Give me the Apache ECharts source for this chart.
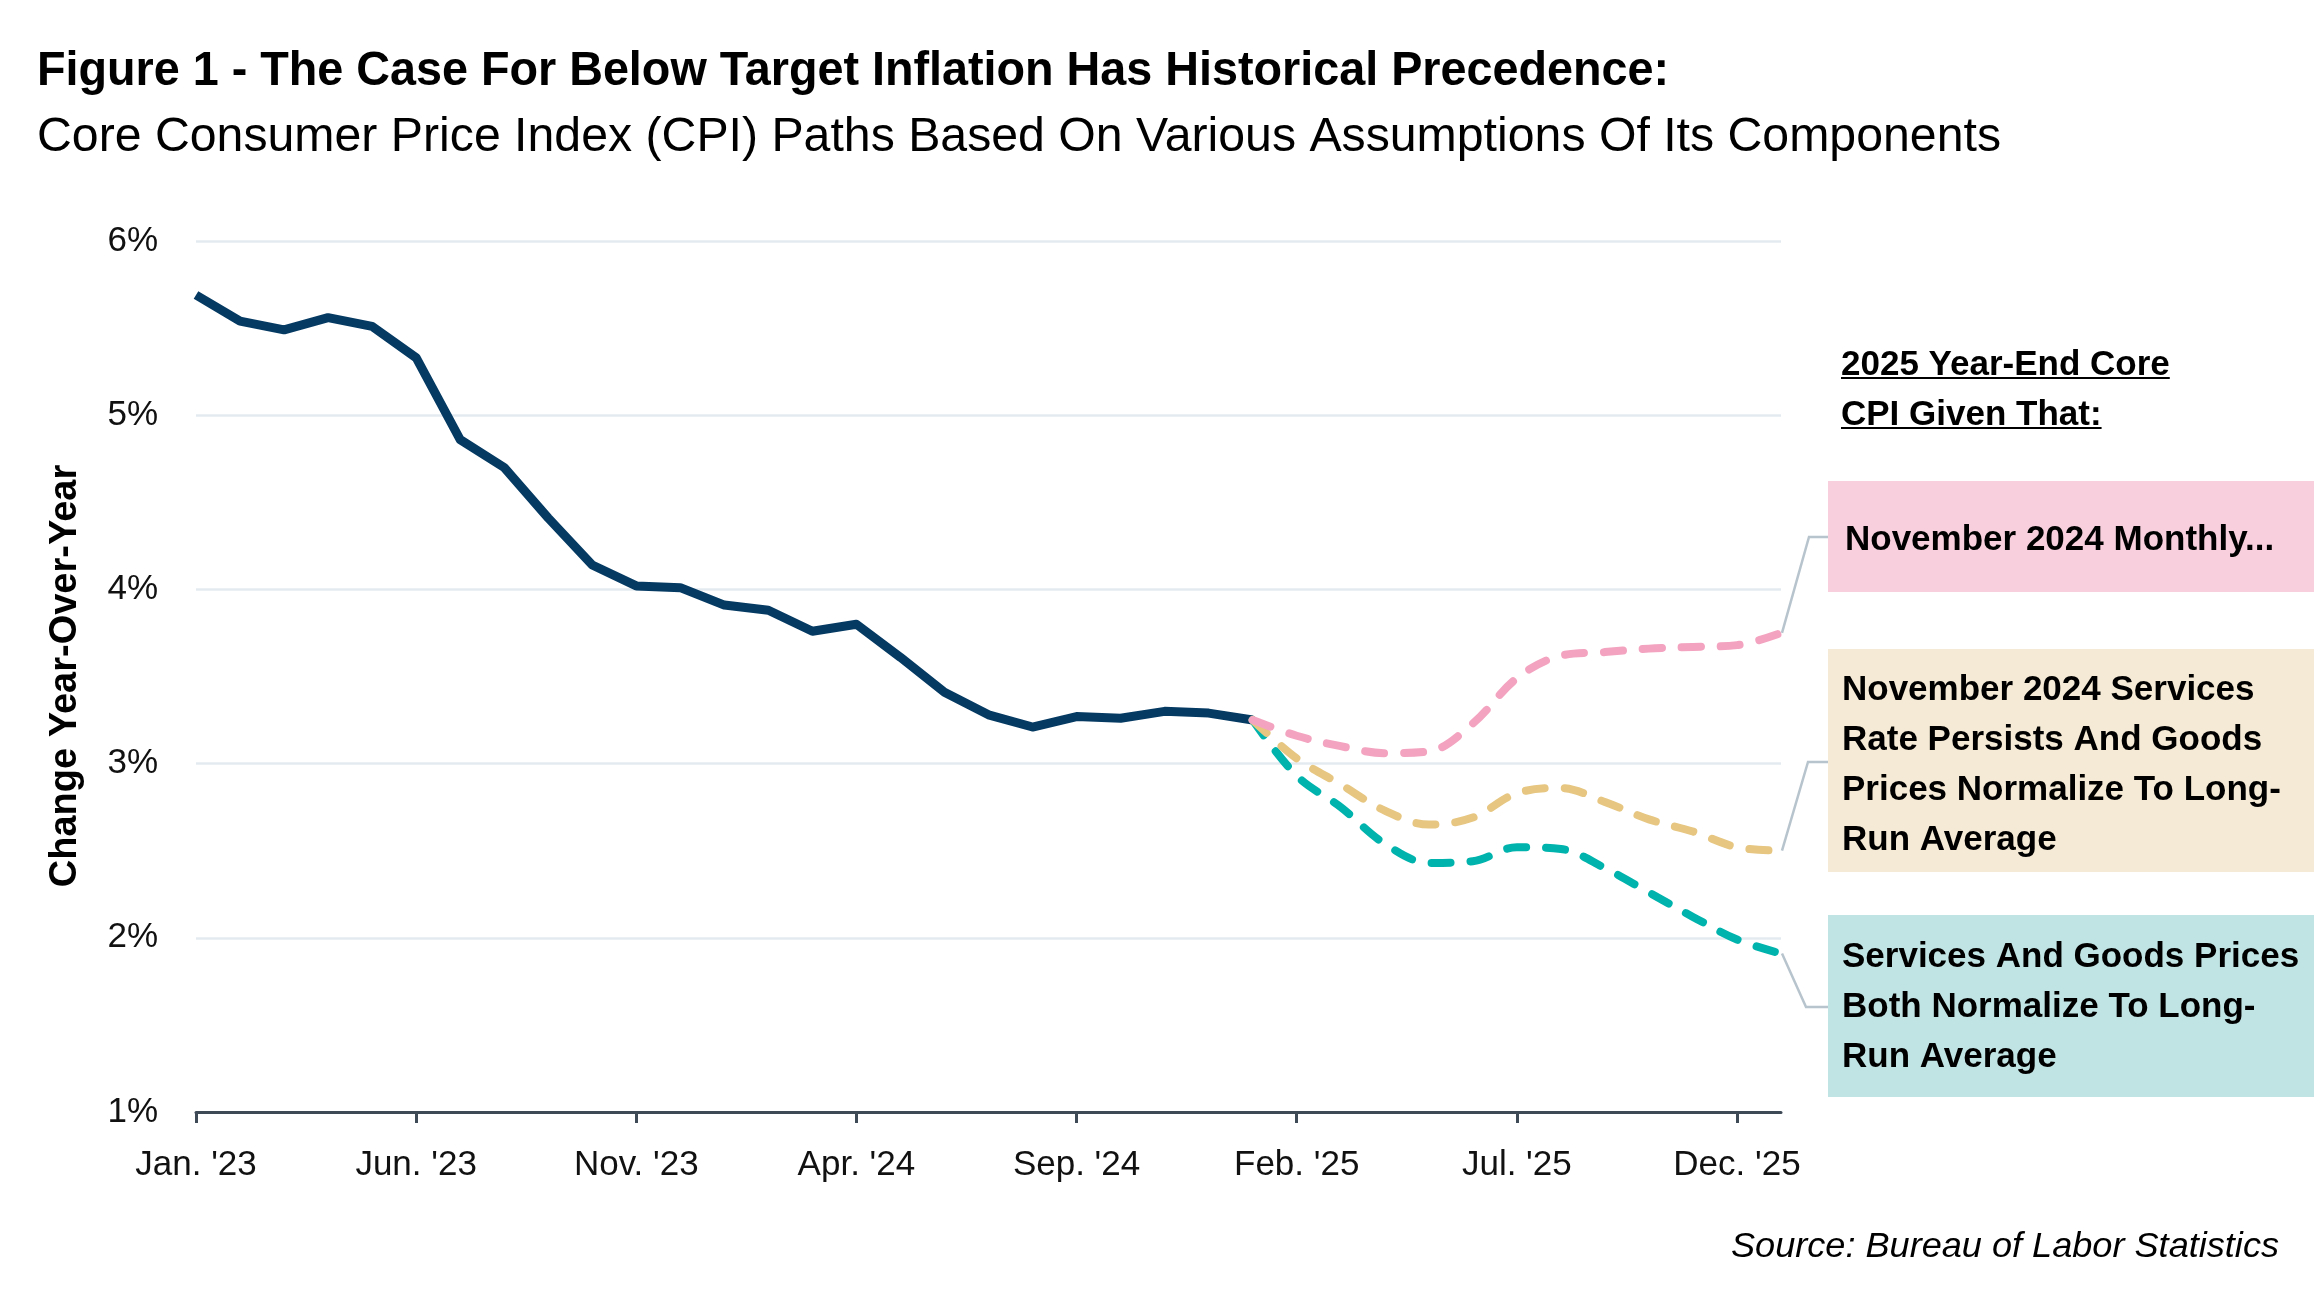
<!DOCTYPE html>
<html>
<head>
<meta charset="utf-8">
<script src="https://cdn.jsdelivr.net/npm/echarts@6/dist/echarts.min.js"></script>
<style>
html,body{margin:0;padding:0;background:#fff;}
#chart{width:2314px;height:1296px;}
</style>
</head>
<body>
<div id="chart"></div>
<script>
// ---------------- DATA ----------------
const categories = [
  "Jan. '23","Feb. '23","Mar. '23","Apr. '23","May '23","Jun. '23","Jul. '23","Aug. '23","Sep. '23","Oct. '23","Nov. '23","Dec. '23",
  "Jan. '24","Feb. '24","Mar. '24","Apr. '24","May '24","Jun. '24","Jul. '24","Aug. '24","Sep. '24","Oct. '24","Nov. '24","Dec. '24",
  "Jan. '25","Feb. '25","Mar. '25","Apr. '25","May '25","Jun. '25","Jul. '25","Aug. '25","Sep. '25","Oct. '25","Nov. '25","Dec. '25",
  "Jan. '26"
];
const actualCore = [5.69, 5.54, 5.49, 5.56, 5.51, 5.33, 4.86, 4.70, 4.41, 4.14, 4.02, 4.01,
                    3.91, 3.88, 3.76, 3.80, 3.61, 3.41, 3.28, 3.21, 3.27, 3.26, 3.30, 3.29, 3.25];
const projectionStart = 24;
const pathNov24Monthly = [3.25, 3.16, 3.10, 3.06, 3.07, 3.23, 3.49, 3.62, 3.64, 3.66, 3.67, 3.68, 3.75];
const pathServicesPersist = [3.25, 3.03, 2.88, 2.73, 2.65, 2.69, 2.83, 2.86, 2.78, 2.68, 2.61, 2.52, 2.50];
const pathBothNormalize = [3.25, 2.93, 2.75, 2.54, 2.43, 2.44, 2.52, 2.51, 2.40, 2.26, 2.12, 1.99, 1.91];
const yMin = 1, yMax = 6, yStep = 1;
const labelEvery = 5;
const lastLabelIndex = 35;

const titleText = "Figure 1 - The Case For Below Target Inflation Has Historical Precedence:";
const subtitleText = "Core Consumer Price Index (CPI) Paths Based On Various Assumptions Of Its Components";
const yAxisTitle = "Change Year-Over-Year";
const sourceText = "Source: Bureau of Labor Statistics";
const headerLines = ["2025 Year-End Core", "CPI Given That:"];
const labelPink = ["November 2024 Monthly..."];
const labelGold = ["November 2024 Services", "Rate Persists And Goods", "Prices Normalize To Long-", "Run Average"];
const labelTeal = ["Services And Goods Prices", "Both Normalize To Long-", "Run Average"];

// ---------------- STYLE ----------------
const FONT = '"Liberation Sans", Arial, Helvetica, sans-serif';
const C_NAVY = '#053A63', C_PINK = '#F3A3BF', C_GOLD = '#E6C680', C_TEAL = '#00B3AC';
const BOX_PINK = '#F8D0DD', BOX_GOLD = '#F5EAD5', BOX_TEAL = '#C0E4E3';
const C_CONN = '#B8C4CD';
const MID = 0.28; // baseline offset of zrender 'middle' text, in em

const mctx = document.createElement('canvas').getContext('2d');
function measure(text, weight, style, size) {
  mctx.font = `${style} ${weight} ${size}px ${FONT}`;
  return mctx.measureText(text).width;
}

const chart = echarts.init(document.getElementById('chart'), null, {renderer: 'canvas'});

function pad(arr, start, total) {
  const out = [];
  for (let i = 0; i < total; i++) {
    const j = i - start;
    out.push(j >= 0 && j < arr.length ? arr[j] : null);
  }
  return out;
}
const N = categories.length;
const dashStyle = (color) => ({color: color, width: 8, type: [19, 20], cap: 'round', join: 'round'});
const showIdx = (idx) => idx % labelEvery === 0 && idx <= lastLabelIndex;

chart.setOption({
  animation: false,
  backgroundColor: '#ffffff',
  grid: {left: 196, right: 533, top: 241, bottom: 184, containLabel: false},
  xAxis: {
    type: 'category',
    data: categories,
    boundaryGap: false,
    axisLine: {show: true, lineStyle: {color: '#3E4A56', width: 3}},
    axisTick: {show: true, interval: showIdx, length: 11, lineStyle: {color: '#3E4A56', width: 3}},
    axisLabel: {interval: showIdx, margin: 36, fontSize: 35, fontFamily: FONT, color: '#111111'},
    splitLine: {show: false}
  },
  yAxis: {
    type: 'value',
    min: yMin, max: yMax, interval: yStep,
    axisLine: {show: false},
    axisTick: {show: false},
    axisLabel: {formatter: '{value}%', margin: 38, fontSize: 35, fontFamily: FONT, color: '#111111'},
    splitLine: {show: true, lineStyle: {color: '#E4EBF0', width: 2.5}}
  },
  series: [
    {name: 'Services And Goods Both Normalize', type: 'line', data: pad(pathBothNormalize, projectionStart, N),
     showSymbol: false, symbol: 'none', smooth: 0.35, lineStyle: dashStyle(C_TEAL), z: 3},
    {name: 'Services Persist, Goods Normalize', type: 'line', data: pad(pathServicesPersist, projectionStart, N),
     showSymbol: false, symbol: 'none', smooth: 0.35, lineStyle: dashStyle(C_GOLD), z: 4},
    {name: 'Core CPI', type: 'line', data: pad(actualCore, 0, N),
     showSymbol: false, symbol: 'none', smooth: false, lineStyle: {color: C_NAVY, width: 9, join: 'round'}, z: 2},
    {name: 'November 2024 Monthly', type: 'line', data: pad(pathNov24Monthly, projectionStart, N),
     showSymbol: false, symbol: 'none', smooth: 0.35, lineStyle: dashStyle(C_PINK), z: 5}
  ]
});

// ---------------- ANNOTATIONS ----------------
const g = [];
// condensed-looking titles: size from cap height, horizontal scale from width
function fittedText(text, weight, style, size, x, baseline, targetW, align) {
  const sx = targetW / measure(text, weight, style, size);
  g.push({type: 'text', x: x, y: baseline - MID * size, scaleX: sx,
    style: {text: text, font: `${style} ${weight} ${size}px ${FONT}`, fill: '#000', align: align, verticalAlign: 'middle'}});
}
fittedText(titleText, 'bold', 'normal', 48, 37, 85, 1632, 'left');
fittedText(subtitleText, 'normal', 'normal', 49, 37, 151, 1964, 'left');
fittedText(sourceText, 'normal', 'italic', 35, 2279, 1257, 548, 'right');

// y axis title (rotated)
g.push({type: 'text', x: 66, y: 676, rotation: Math.PI / 2,
  style: {text: yAxisTitle, font: `bold 38px ${FONT}`, fill: '#000', align: 'center', verticalAlign: 'middle'}});

// header with underline
const hdrFont = `bold 35px ${FONT}`;
const hdrBaselines = [375, 425];
headerLines.forEach((t, i) => {
  g.push({type: 'text', x: 1841, y: hdrBaselines[i] - MID * 35, style: {text: t, font: hdrFont, fill: '#000', align: 'left', verticalAlign: 'middle'}});
  const w = measure(t, 'bold', 'normal', 35);
  g.push({type: 'line', shape: {x1: 1841, y1: hdrBaselines[i] + 3, x2: 1841 + w, y2: hdrBaselines[i] + 3}, style: {stroke: '#000', lineWidth: 2}});
});

// boxes
function box(y0, y1, color, lines, baselines, tx) {
  g.push({type: 'rect', shape: {x: 1828, y: y0, width: 2314 - 1828, height: y1 - y0}, style: {fill: color}, z: 1});
  lines.forEach((t, i) => {
    g.push({type: 'text', x: tx, y: baselines[i] - MID * 35, z: 2,
      style: {text: t, font: `bold 35px ${FONT}`, fill: '#000', align: 'left', verticalAlign: 'middle'}});
  });
}
box(481, 592, BOX_PINK, labelPink, [550], 1845);
box(649, 872, BOX_GOLD, labelGold, [700, 750, 800, 850], 1842);
box(915, 1097, BOX_TEAL, labelTeal, [967, 1017, 1067], 1842);

// connectors from series end points (via library scale)
function connector(vals, elbow, endX) {
  const last = N - 1;
  const p = chart.convertToPixel({gridIndex: 0}, [last, vals[vals.length - 1]]);
  g.push({type: 'polyline', shape: {points: [[p[0] + 1, p[1]], elbow, [endX, elbow[1]]]},
    style: {stroke: C_CONN, lineWidth: 2.5, fill: null}, z: 0});
}
connector(pathNov24Monthly, [1809, 537], 1829);
connector(pathServicesPersist, [1808, 762], 1828);
connector(pathBothNormalize, [1806, 1007], 1828);

chart.setOption({graphic: {elements: g}});
</script>
</body>
</html>
